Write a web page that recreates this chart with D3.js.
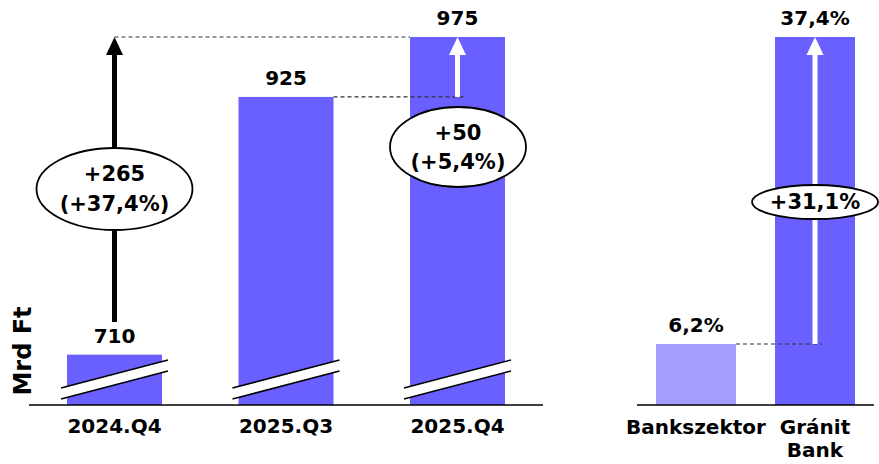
<!DOCTYPE html>
<html>
<head>
<meta charset="utf-8">
<script src="https://cdn.jsdelivr.net/npm/d3@7"></script>
<style>
  html, body { margin: 0; padding: 0; background: #fff; }
  svg { display: block; }
  text { font-family: "DejaVu Sans", Verdana, sans-serif; font-weight: bold; fill: #000; }
</style>
</head>
<body>
<svg id="chart" width="879" height="464"></svg>
<script>
// ---- data ----
const categories = ["2024.Q4", "2025.Q3", "2025.Q4"];
const values = [710, 925, 975];
const yearChange = ["+265", "(+37,4%)"];
const quarterChange = ["+50", "(+5,4%)"];
const unitLabel = "Mrd Ft";

const pctCategories = [["Bankszektor"], ["Gránit", "Bank"]];
const pctValues = [6.2, 37.4];
const pctLabels = ["6,2%", "37,4%"];
const pctDiffLabel = "+31,1%";

// ---- setup ----
const svg = d3.select("#chart");
const barColor = "#6a5fff";
const lightColor = "#a59dfd";
const baseY = 405;
const topY = 37;

// left panel scales
const x = d3.scaleBand().domain(categories).range([67, 505]).paddingInner(0.446).paddingOuter(0);
const y = d3.scaleLinear().domain([668, 975]).range([baseY, topY]);

// right panel scales
const pctKeys = pctCategories.map(d => d.join(" "));
const x2 = d3.scaleBand().domain(pctKeys).range([656, 855]).paddingInner(0.328).paddingOuter(0);
const y2 = d3.scaleLinear().domain([0, 37.4]).range([baseY, topY]);

// ---- left bars ----
const gL = svg.append("g");
gL.selectAll("rect.bar").data(values).join("rect")
  .attr("class", "bar")
  .attr("x", (d, i) => x(categories[i]))
  .attr("y", d => y(d))
  .attr("width", x.bandwidth())
  .attr("height", d => baseY - y(d))
  .attr("fill", barColor);

// break marks
categories.forEach(c => {
  const x0 = x(c) - 6, x1 = x(c) + x.bandwidth() + 6;
  gL.append("polygon")
    .attr("points", [[x0, baseY - 17], [x1, baseY - 45], [x1, baseY - 34], [x0, baseY - 6]].map(p => p.join(",")).join(" "))
    .attr("fill", "#fff");
  [[17, 45], [6, 34]].forEach(([a, b]) => {
    gL.append("line")
      .attr("x1", x0).attr("y1", baseY - a)
      .attr("x2", x1).attr("y2", baseY - b)
      .attr("stroke", "#000").attr("stroke-width", 1.5);
  });
});

// left axis line
gL.append("line").attr("x1", 29).attr("x2", 543).attr("y1", baseY).attr("y2", baseY)
  .attr("stroke", "#000").attr("stroke-width", 1.5);

// category labels
gL.selectAll("text.cat").data(categories).join("text")
  .attr("class", "cat")
  .attr("x", d => x(d) + x.bandwidth() / 2)
  .attr("y", 426)
  .attr("text-anchor", "middle").attr("dominant-baseline", "central")
  .attr("font-size", 20)
  .text(d => d);

// value labels
gL.selectAll("text.val").data(values).join("text")
  .attr("class", "val")
  .attr("x", (d, i) => x(categories[i]) + x.bandwidth() / 2)
  .attr("y", d => y(d) - 19)
  .attr("text-anchor", "middle").attr("dominant-baseline", "central")
  .attr("font-size", 20)
  .text(d => d);

// unit label
gL.append("text")
  .attr("transform", "translate(23," + 351 + ") rotate(-90)")
  .attr("text-anchor", "middle").attr("dominant-baseline", "central")
  .attr("font-size", 24)
  .text(unitLabel);

// arrow helper
function arrow(g, cx, yFrom, yTo, color, w) {
  g.append("line").attr("x1", cx).attr("x2", cx).attr("y1", yFrom).attr("y2", yTo + 16)
    .attr("stroke", color).attr("stroke-width", w);
  g.append("polygon")
    .attr("points", [[cx, yTo], [cx - 8.5, yTo + 18], [cx + 8.5, yTo + 18]].map(p => p.join(",")).join(" "))
    .attr("fill", color);
}
function dashed(g, x1, x2, yy) {
  g.append("line").attr("x1", x1).attr("x2", x2).attr("y1", yy).attr("y2", yy)
    .attr("stroke", "#333").attr("stroke-width", 1.2).attr("stroke-dasharray", "4,3");
}
function bubble(g, cx, cy, rx, ry, lines, dy) {
  g.append("ellipse").attr("cx", cx).attr("cy", cy).attr("rx", rx).attr("ry", ry)
    .attr("fill", "#fff").attr("stroke", "#000").attr("stroke-width", 1.8);
  lines.forEach((t, i) => {
    g.append("text")
      .attr("x", cx).attr("y", cy + (i - (lines.length - 1) / 2) * dy)
      .attr("text-anchor", "middle").attr("dominant-baseline", "central")
      .attr("font-size", 21)
      .text(t);
  });
}

// year-over-year change
const c0 = x(categories[0]) + x.bandwidth() / 2;
const c2 = x(categories[2]) + x.bandwidth() / 2;
dashed(gL, c0, x(categories[2]), y(values[2]));
arrow(gL, c0, 322, y(values[2]), "#000", 5);
bubble(gL, c0, 189, 78, 41, yearChange, 30);

// quarter-over-quarter change
dashed(gL, x(categories[1]) + x.bandwidth(), c2 + 8, y(values[1]));
arrow(gL, c2, y(values[1]), y(values[2]), "#fff", 5);
bubble(gL, 458, 147, 68, 40, quarterChange, 29);

// ---- right panel ----
const gR = svg.append("g");
gR.selectAll("rect.bar").data(pctValues).join("rect")
  .attr("class", "bar")
  .attr("x", (d, i) => x2(pctKeys[i]))
  .attr("y", d => y2(d))
  .attr("width", x2.bandwidth())
  .attr("height", d => baseY - y2(d))
  .attr("fill", (d, i) => i === 0 ? lightColor : barColor);

gR.append("line").attr("x1", 637).attr("x2", 874).attr("y1", baseY).attr("y2", baseY)
  .attr("stroke", "#000").attr("stroke-width", 1.5);

pctCategories.forEach((lines, i) => {
  lines.forEach((t, j) => {
    gR.append("text")
      .attr("x", x2(pctKeys[i]) + x2.bandwidth() / 2)
      .attr("y", 427 + j * 23)
      .attr("text-anchor", "middle").attr("dominant-baseline", "central")
      .attr("font-size", 20)
      .text(t);
  });
});

gR.selectAll("text.val").data(pctValues).join("text")
  .attr("class", "val")
  .attr("x", (d, i) => x2(pctKeys[i]) + x2.bandwidth() / 2)
  .attr("y", d => y2(d) - 19)
  .attr("text-anchor", "middle").attr("dominant-baseline", "central")
  .attr("font-size", 20)
  .text((d, i) => pctLabels[i]);

const r1 = x2(pctKeys[1]) + x2.bandwidth() / 2;
dashed(gR, x2(pctKeys[0]) + x2.bandwidth(), r1 + 7, y2(pctValues[0]));
arrow(gR, r1, y2(pctValues[0]), y2(pctValues[1]), "#fff", 5);
bubble(gR, r1, 202, 63, 17, [pctDiffLabel], 0);
</script>
</body>
</html>
